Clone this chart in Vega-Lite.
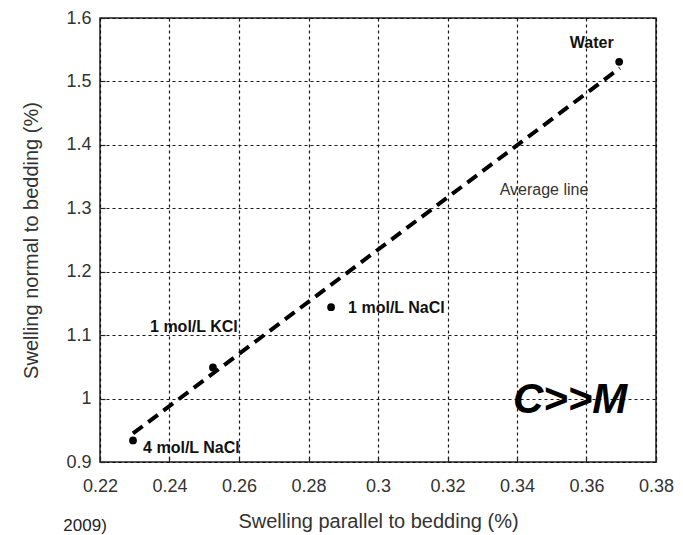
{
  "$schema": "https://vega.github.io/schema/vega-lite/v6.json",
  "autosize": "none",
  "padding": {"left": 100, "top": 18, "right": 27, "bottom": 73},
  "width": 556,
  "height": 444,
  "background": "white",
  "config": {
    "font": "Liberation Sans",
    "view": {"stroke": "#222", "strokeWidth": 1.5},
    "axis": {
      "grid": true,
      "gridColor": "black",
      "gridDash": [3, 3],
      "gridOpacity": 0.9,
      "gridWidth": 1.2,
      "domain": false,
      "ticks": true,
      "tickSize": -5,
      "tickColor": "#222",
      "tickWidth": 1.2,
      "labelFlush": false,
      "labelFont": "Liberation Sans",
      "labelFontSize": 18,
      "labelColor": "#333",
      "titleFont": "Liberation Sans",
      "titleFontSize": 20,
      "titleFontWeight": "normal",
      "titleColor": "#333"
    }
  },
  "datasets": {
    "points": [
      {"x": 0.3694, "y": 1.531, "name": "Water"},
      {"x": 0.2865, "y": 1.144, "name": "1 mol/L NaCl"},
      {"x": 0.2525, "y": 1.049, "name": "1 mol/L KCl"},
      {"x": 0.2295, "y": 0.934, "name": "4 mol/L NaCl"}
    ],
    "line": [
      {"x": 0.2295, "y": 0.945},
      {"x": 0.3696, "y": 1.521}
    ],
    "boldLabels": [
      {"x": 0.2914, "y": 1.143, "text": "1 mol/L NaCl"},
      {"x": 0.2344, "y": 1.113, "text": "1 mol/L KCl"},
      {"x": 0.2324, "y": 0.922, "text": "4 mol/L NaCl"}
    ],
    "water": [
      {"x": 0.3615, "y": 1.56, "text": "Water"}
    ],
    "avg": [
      {"x": 0.335, "y": 1.329, "text": "Average line"}
    ],
    "big": [
      {"x": 0.3553, "y": 0.998, "text": "C>>M"}
    ],
    "cut": [
      {"x": 0.2157, "y": 0.7845, "text": "2009)"}
    ]
  },
  "layer": [
    {
      "data": {"name": "line"},
      "mark": {"type": "line", "color": "black", "strokeWidth": 4, "strokeDash": [12, 7]},
      "encoding": {
        "x": {"field": "x", "type": "quantitative", "scale": {"domain": [0.22, 0.38], "nice": false, "zero": false},
          "axis": {"title": "Swelling parallel to bedding (%)", "values": [0.22, 0.24, 0.26, 0.28, 0.3, 0.32, 0.34, 0.36, 0.38], "labelPadding": 20, "titlePadding": 16, "labelExpr": "datum.value == 0.3 ? '0.3' : format(datum.value, '.2f')"}},
        "y": {"field": "y", "type": "quantitative", "scale": {"domain": [0.9, 1.6], "nice": false, "zero": false},
          "axis": {"title": "Swelling normal to bedding (%)", "values": [0.9, 1.0, 1.1, 1.2, 1.3, 1.4, 1.5, 1.6], "labelPadding": 14, "titlePadding": 24, "labelExpr": "datum.value == 1 ? '1' : format(datum.value, '.1f')"}}
      }
    },
    {
      "data": {"name": "points"},
      "mark": {"type": "point", "filled": true, "color": "black", "size": 60, "opacity": 1},
      "encoding": {
        "x": {"field": "x", "type": "quantitative"},
        "y": {"field": "y", "type": "quantitative"}
      }
    },
    {
      "data": {"name": "boldLabels"},
      "mark": {"type": "text", "color": "#111", "baseline": "middle", "align": "left", "fontSize": 16, "fontWeight": "bold"},
      "encoding": {
        "x": {"field": "x", "type": "quantitative"},
        "y": {"field": "y", "type": "quantitative"},
        "text": {"field": "text"}
      }
    },
    {
      "data": {"name": "water"},
      "mark": {"type": "text", "color": "#111", "baseline": "middle", "align": "center", "fontSize": 16, "fontWeight": "bold"},
      "encoding": {
        "x": {"field": "x", "type": "quantitative"},
        "y": {"field": "y", "type": "quantitative"},
        "text": {"field": "text"}
      }
    },
    {
      "data": {"name": "avg"},
      "mark": {"type": "text", "color": "#333", "baseline": "middle", "align": "left", "fontSize": 16},
      "encoding": {
        "x": {"field": "x", "type": "quantitative"},
        "y": {"field": "y", "type": "quantitative"},
        "text": {"field": "text"}
      }
    },
    {
      "data": {"name": "big"},
      "mark": {"type": "text", "color": "black", "fontSize": 42, "fontWeight": "bold", "fontStyle": "italic", "baseline": "middle", "align": "center"},
      "encoding": {
        "x": {"field": "x", "type": "quantitative"},
        "y": {"field": "y", "type": "quantitative"},
        "text": {"field": "text"}
      }
    },
    {
      "data": {"name": "cut"},
      "mark": {"type": "text", "color": "#222", "fontSize": 17, "baseline": "bottom", "align": "center"},
      "encoding": {
        "x": {"field": "x", "type": "quantitative"},
        "y": {"field": "y", "type": "quantitative"},
        "text": {"field": "text"}
      }
    }
  ]
}
